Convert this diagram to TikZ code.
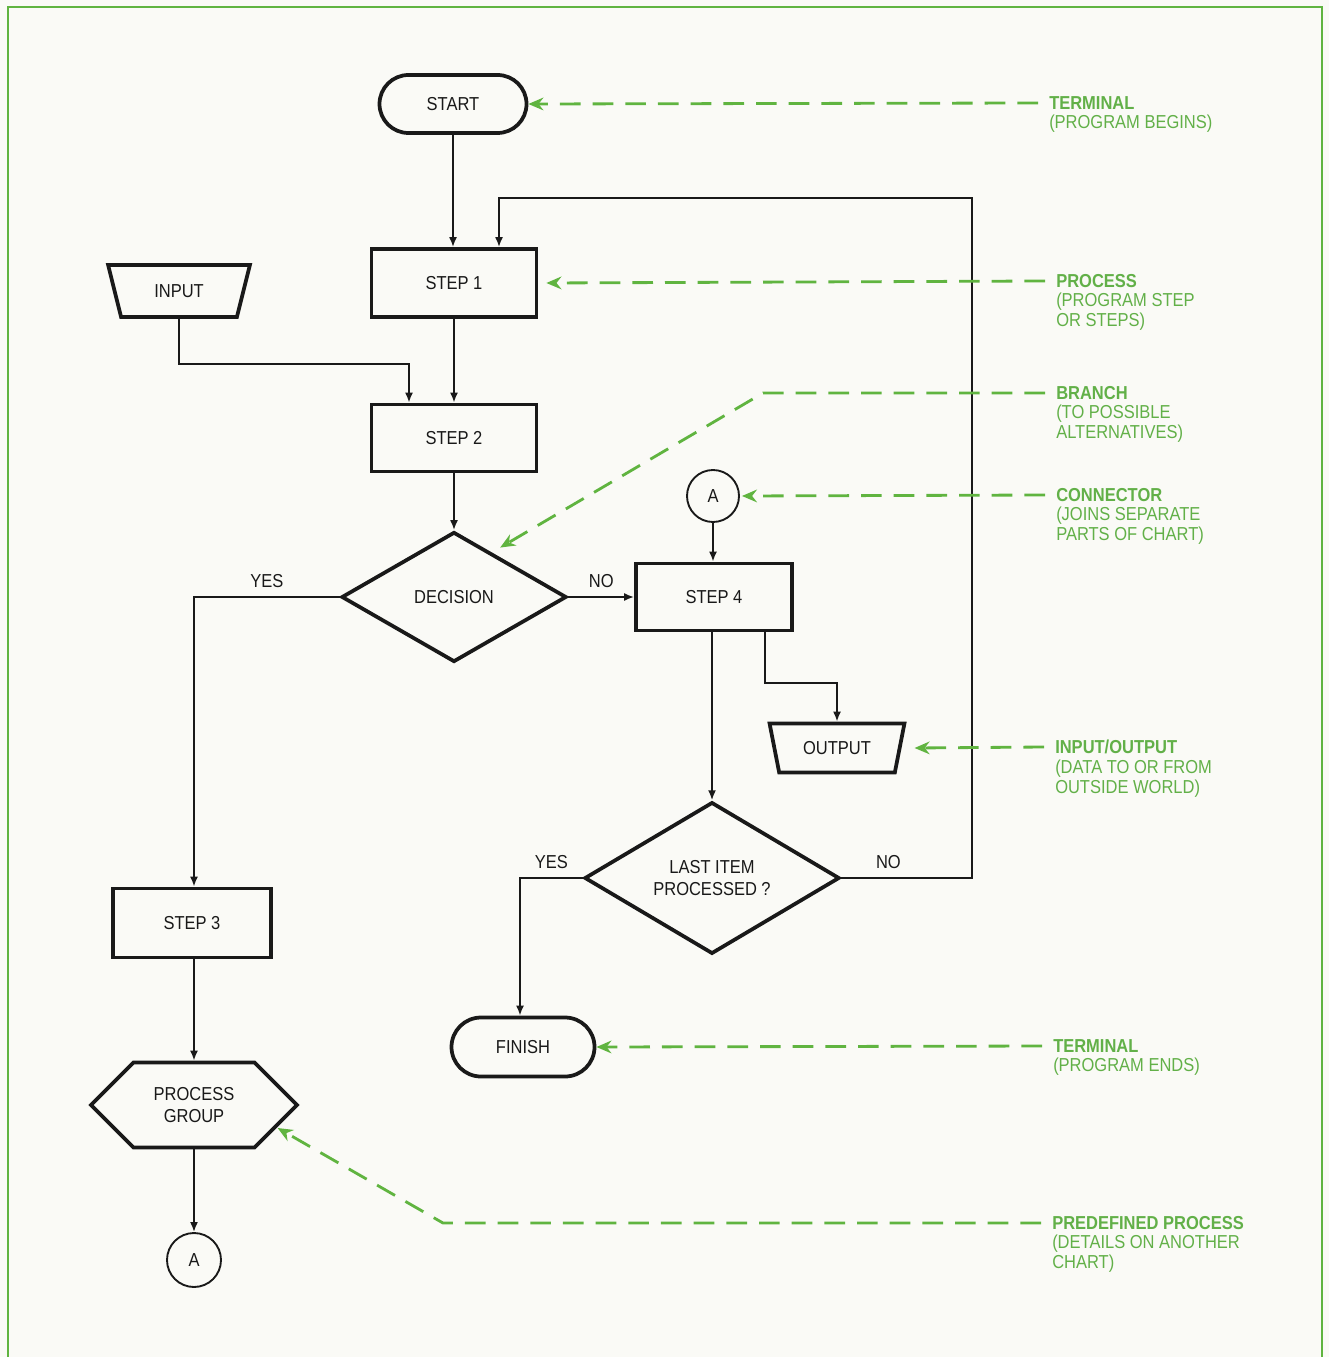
\documentclass[tikz,border=0pt]{standalone}
\usepackage{fontspec}
\setmainfont{Liberation Sans}[FakeStretch=0.88]
\usepackage{tikz}
\usetikzlibrary{
    positioning,
    arrows.meta,
    shapes.geometric,
    shapes.misc,
    shapes.symbols
}
\definecolor{chartgreen}{RGB}{96,180,64}
\definecolor{labelgreen}{RGB}{98,176,72}
\definecolor{ink}{RGB}{25,25,25}
\definecolor{paper}{RGB}{250,250,246}
\tikzset{
    >=Stealth,
    every node/.style={
        font=\fontsize{16}{18}\selectfont,
        text=ink
    },
    box/.style={
        draw=ink,
        line width=3.2pt,
        rectangle,
        inner sep=0pt
    },
    terminal/.style={
        draw=ink,
        line width=3.2pt,
        rounded rectangle,
        inner sep=0pt
    },
    decision/.style={
        draw=ink,
        line width=3.2pt,
        diamond,
        inner sep=0pt,
        align=center
    },
    inout/.style={
        draw=ink,
        line width=3.2pt,
        trapezium,
        trapezium angle=67,
        trapezium stretches=true,
        shape border rotate=180,
        inner sep=0pt
    },
    predef/.style={
        draw=ink,
        line width=3.2pt,
        signal,
        signal to=east and west,
        signal pointer angle=90,
        inner sep=0pt,
        align=center
    },
    joint/.style={
        draw=ink,
        line width=1.6pt,
        circle,
        minimum size=1.56cm,
        inner sep=0pt
    },
    flow/.style={
        draw=ink,
        line width=1.6pt,
        -{Latex[length=0.3cm,width=0.24cm]}
    },
    callout/.style={
        draw=chartgreen,
        line width=2.4pt,
        dash pattern=on 0.62cm off 0.36cm,
        -{Stealth[length=0.45cm,width=0.38cm]}
    },
    tag/.style={
        inner sep=0pt
    },
    lbltitle/.style={
        anchor=west,
        text=labelgreen,
        font=\fontsize{16}{17}\selectfont\bfseries,
        inner xsep=0.33cm,
        inner ysep=0pt
    },
    lblsub/.style={
        anchor=north west,
        text=labelgreen,
        font=\fontsize{16}{17}\selectfont,
        align=left,
        inner xsep=0.33cm,
        inner ysep=4.5pt
    }
}

\begin{document}
\begin{tikzpicture}[
    x=0.03cm,
    y=-0.03cm,
    >=Stealth
]

    % Fondo y marco
    \fill[paper] (0,0) rectangle (1329,1357);
    \useasboundingbox (0,0) rectangle (1329,1357);
    \draw[chartgreen, line width=2.5pt] (8,1357) -- (8,7) -- (1322,7) -- (1322,1357);

    % Simbolos
    \node[terminal, minimum width=4.41cm, minimum height=1.74cm] (start)  at (453,104)  {START};
    \node[box, minimum width=4.95cm, minimum height=2.04cm]      (step1)  at (454,283)  {STEP 1};
    \node[inout, minimum width=4.26cm, minimum height=1.56cm]    (input)  at (179,291)  {INPUT};
    \node[box, minimum width=4.95cm, minimum height=2.01cm]      (step2)  at (454,438)  {STEP 2};
    \node[decision, minimum width=6.75cm, minimum height=3.9cm]  (branch) at (454,597)  {DECISION};
    \node[joint]                                                 (conA)   at (713,496)  {A};
    \node[box, minimum width=4.68cm, minimum height=2.01cm]      (step4)  at (714,597)  {STEP 4};
    \node[inout, minimum width=4.05cm, minimum height=1.47cm]    (output) at (837,748)  {OUTPUT};
    \node[decision, minimum width=7.65cm, minimum height=4.5cm]  (last)   at (712,878)  {LAST ITEM\\PROCESSED ?};
    \node[terminal, minimum width=4.29cm, minimum height=1.77cm] (finish) at (523,1047) {FINISH};
    \node[box, minimum width=4.74cm, minimum height=2.07cm]      (step3)  at (192,923)  {STEP 3};
    \node[predef, minimum width=6.18cm, minimum height=2.55cm]   (group)  at (194,1105) {PROCESS\\GROUP};
    \node[joint, minimum size=1.62cm]                            (conB)   at (194,1260) {A};

    \coordinate (loopc) at (972,198);

    % Flujo
    \draw[flow] (start.south) -- (start.south |- step1.north);
    \draw[flow] (step1) -- (step2);
    \draw[flow] (step2) -- (branch);
    \draw[flow] (input.south) -- ++(0,45) -| ([xshift=-1.35cm]step2.north);
    \draw[flow] (branch.east) -- node[tag, above=0.25cm] {NO} (step4.west);
    \draw[flow] (branch.west) -| node[tag, pos=0.25, above=0.25cm] {YES} (group.north |- step3.north);
    \draw[flow] (conA.south) -- (conA.south |- step4.north);
    \draw[flow] ([xshift=1.53cm]step4.south) -- ++(0,51) -| (output.north);
    \draw[flow] (last.north |- step4.south) -- (last.north);
    \draw[flow] (last.west) -| node[tag, pos=0.25, above=0.25cm] {YES} ([xshift=-0.09cm]finish.north);
    \draw[flow] (last.east) -| node[tag, pos=0.18, above=0.25cm] {NO} (loopc)
        -| ([xshift=1.35cm]step1.north);
    \draw[flow] (group.north |- step3.south) -- (group.north);
    \draw[flow] (group.south) -- (conB.north);

    % Leyendas
    \node[lbltitle] (tTerm)   at (1038,103)  {TERMINAL};
    \node[lblsub]             at (tTerm.south west) {(PROGRAM BEGINS)};
    \node[lbltitle] (tProc)   at (1045,281)  {PROCESS};
    \node[lblsub]             at (tProc.south west) {(PROGRAM STEP\\OR STEPS)};
    \node[lbltitle] (tBranch) at (1045,393)  {BRANCH};
    \node[lblsub]             at (tBranch.south west) {(TO POSSIBLE\\ALTERNATIVES)};
    \node[lbltitle] (tConn)   at (1045,495)  {CONNECTOR};
    \node[lblsub]             at (tConn.south west) {(JOINS SEPARATE\\PARTS OF CHART)};
    \node[lbltitle] (tIO)     at (1044,747)  {INPUT/OUTPUT};
    \node[lblsub]             at (tIO.south west) {(DATA TO OR FROM\\OUTSIDE WORLD)};
    \node[lbltitle] (tEnd)    at (1042,1046) {TERMINAL};
    \node[lblsub]             at (tEnd.south west) {(PROGRAM ENDS)};
    \node[lbltitle] (tPre)    at (1041,1223) {PREDEFINED PROCESS};
    \node[lblsub]             at (tPre.south west) {(DETAILS ON ANOTHER\\CHART)};

    \coordinate (bBranch) at (763,393);
    \coordinate (bPre)    at (443,1223);

    \draw[callout] (tTerm.west) -- (start.east);
    \draw[callout] (tProc.west) -- ([xshift=0.24cm]step1.east);
    \draw[callout] (tBranch.west) -- (bBranch)
        -- ([xshift=-0.33cm, yshift=0.48cm]branch.north east);
    \draw[callout] (tConn.west) -- ([xshift=0.06cm]conA.east);
    \draw[callout] (tIO.west) -- ([xshift=0.39cm]output.east);
    \draw[callout] (tEnd.west) -- (finish.east);
    \draw[callout] (tPre.west) -- (bPre) -- ([xshift=-0.66cm, yshift=-0.69cm]group.east);

\end{tikzpicture}
\end{document}
